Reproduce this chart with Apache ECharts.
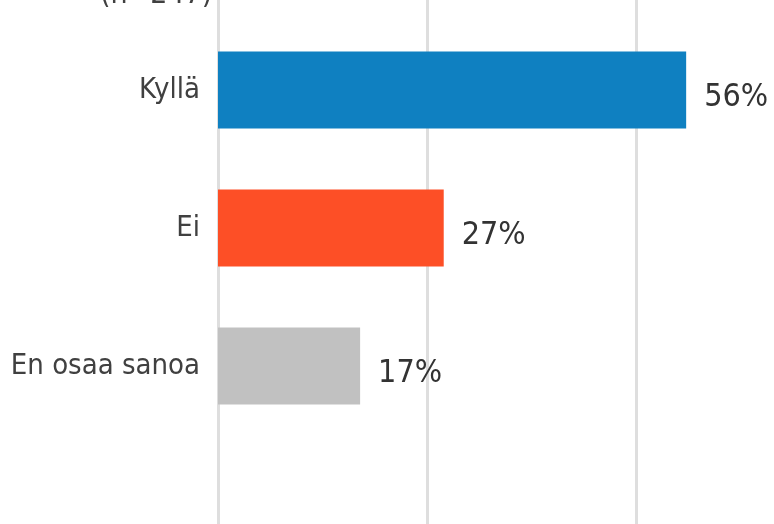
<!DOCTYPE html>
<html>
<head>
<meta charset="utf-8">
<script src="https://cdn.jsdelivr.net/npm/echarts@6/dist/echarts.min.js"></script>
<style>
  html, body { margin: 0; padding: 0; background: #fff; }
  #chart { width: 774px; height: 524px; }
</style>
</head>
<body>
<div id="chart"></div>
<script>
// vastaukset (%)
var categories = ['Kyllä', 'Ei', 'En osaa sanoa']
var values = [56, 27, 17]
var colors = ['#0f80c1', '#fd4f26', '#c1c1c1']
var subtitle = '(n=247)'

var font = '"DejaVu Sans Condensed", "Liberation Sans Narrow", sans-serif'

// tyhjät rivit ylä- ja alapuolelle, jotta ruudukko jatkuu kuvan reunoille
var axisCats = [''].concat(categories, [''])
var barData = [null].concat(values.map(function (v, i) {
  return { value: v, itemStyle: { color: colors[i] } }
}), [null])

var chart = echarts.init(document.getElementById('chart'))
chart.setOption({
  animation: false,
  graphic: [{
    type: 'text',
    left: 100,
    top: -20,
    style: {
      text: subtitle,
      fontFamily: font,
      fontSize: 30,
      fill: '#404040'
    }
  }],
  grid: {
    left: 218,
    right: -71,
    top: -117,
    bottom: -49,
    outerBoundsMode: 'none',
    containLabel: false
  },
  xAxis: {
    type: 'value',
    min: 0,
    max: 75,
    interval: 25,
    axisLabel: { show: false },
    axisTick: { show: false },
    axisLine: { show: false },
    splitLine: {
      lineStyle: { color: '#dedede', width: 3 }
    }
  },
  yAxis: {
    type: 'category',
    inverse: true,
    data: axisCats,
    axisTick: { show: false },
    axisLine: { show: false },
    axisLabel: {
      margin: 18,
      fontFamily: font,
      fontSize: 29,
      color: '#404040',
      verticalAlign: 'middle',
      padding: [0, 0, 4, 0]
    }
  },
  series: [{
    type: 'bar',
    data: barData,
    barWidth: 77,
    label: {
      show: true,
      position: 'right',
      distance: 18,
      offset: [0, 8],
      formatter: '{c}%',
      fontFamily: font,
      fontSize: 32,
      color: '#333'
    }
  }]
})
</script>
</body>
</html>
